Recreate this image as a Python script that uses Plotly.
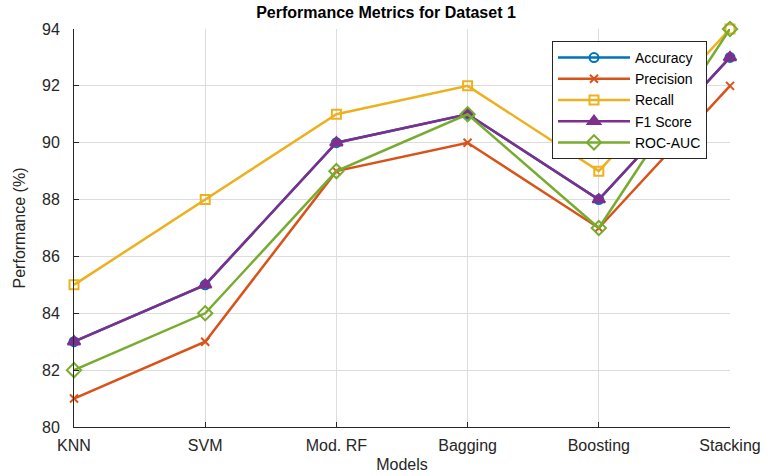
import plotly.graph_objects as go

models = ["KNN", "SVM", "Mod. RF", "Bagging", "Boosting", "Stacking"]
accuracy = [83, 85, 90, 91, 88, 93]
precision = [81, 83, 89, 90, 87, 92]
recall = [85, 88, 91, 92, 89, 94]
f1_score = [83, 85, 90, 91, 88, 93]
roc_auc = [82, 84, 89, 91, 87, 94]

series = [
    ("Accuracy", accuracy, "#0072BD", "circle-open", 9),
    ("Precision", precision, "#D95319", "x-thin-open", 8),
    ("Recall", recall, "#EDB120", "square-open", 9),
    ("F1 Score", f1_score, "#7E2F8E", "triangle-up", 11),
    ("ROC-AUC", roc_auc, "#77AC30", "diamond-open", 11),
]

fig = go.Figure()
for name, vals, color, sym, size in series:
    fig.add_trace(go.Scatter(
        x=models, y=vals, name=name, mode="lines+markers",
        line=dict(color=color, width=2.5),
        marker=dict(symbol=sym, size=size, color=color,
                    line=dict(color=color, width=2)),
        cliponaxis=False,
    ))

axis_common = dict(
    showline=True, linecolor="#262626", linewidth=1,
    showgrid=True, gridcolor="#dcdcdc", gridwidth=1,
    ticks="inside", ticklen=5, tickcolor="#262626",
    tickfont=dict(family="Liberation Sans, Arial", size=16, color="#262626"),
    zeroline=False, mirror=False, automargin=False,
)

fig.update_layout(
    width=772, height=476,
    margin=dict(l=74, r=42, t=29, b=49),
    paper_bgcolor="white", plot_bgcolor="white",
    font=dict(family="Liberation Sans, Arial", color="#262626"),
    title=dict(text="<b>Performance Metrics for Dataset 1</b>", x=0.5, xanchor="center",
               y=1 - 12 / 476, yanchor="middle", font=dict(size=16, color="#000000"),
               automargin=False),
    xaxis=dict(range=[0, 5], ticklabelstandoff=4,
               title=dict(text="Models", font=dict(size=16), standoff=5),
               **axis_common),
    yaxis=dict(range=[80, 94], dtick=2, ticklabelstandoff=10,
               title=dict(text="Performance (%)", font=dict(size=16), standoff=12),
               **axis_common),
    legend=dict(x=(552 - 74) / 656, y=(427 - 41) / 398, xanchor="left", yanchor="top",
                bgcolor="white", bordercolor="#262626", borderwidth=1,
                font=dict(size=14, color="#000000"), itemwidth=72,
                tracegroupgap=0),
    showlegend=True,
)

fig.write_html("out.html", config={"displayModeBar": False},
               post_script="document.body.style.margin='0px';")
